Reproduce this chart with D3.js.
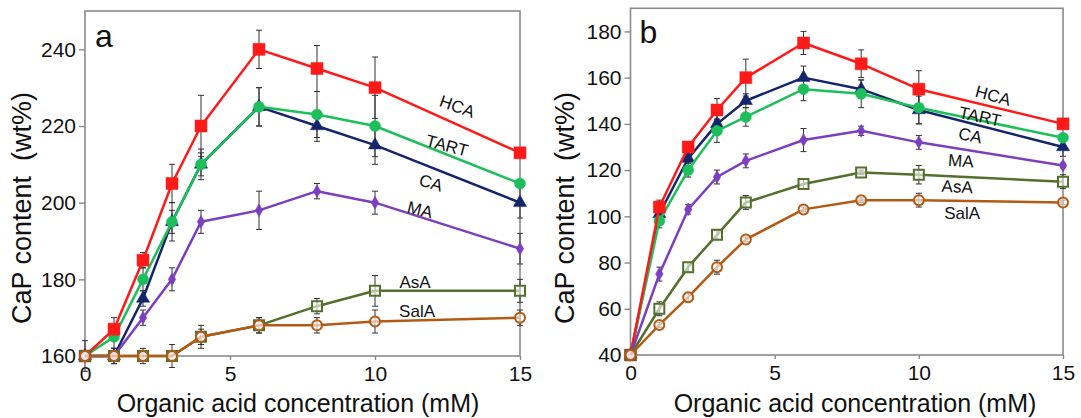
<!DOCTYPE html>
<html>
<head>
<meta charset="utf-8">
<script src="https://cdn.jsdelivr.net/npm/d3@7"></script>
<style>
	html, body { margin: 0; padding: 0; background: #fff; }
	svg { display: block; font-family: "Liberation Sans", Arial, sans-serif; }
</style>
</head>
<body>
<svg id="chart" width="1081" height="418"></svg>
<script>
// concentrations (mM)
const conc = [0, 1, 2, 3, 4, 6, 8, 10, 15];
const xTicks = [0, 5, 10, 15];

// panel a values (wt%) and error bars
const hcaA = [160, 167, 185, 205, 220, 240, 235, 230, 213];
const tartA = [160, 165, 180, 195, 210, 225, 223, 220, 205];
const caA = [160, 160, 175, 195, 210, 225, 220, 215, 200];
const maA = [160, 160, 170, 180, 195, 198, 203, 200, 188];
const asaA = [160, 160, 160, 160, 165, 168, 173, 177, 177];
const salaA = [160, 160, 160, 160, 165, 168, 168, 169, 170];
const hcaAErr = [4, 3, 2, 5, 8, 5, 6, 8, 1];
const tartAErr = [0, 3, 3, 3, 4, 5, 6, 8, 1];
const caAErr = [0, 2, 2, 5, 3, 5, 4, 5, 4];
const maAErr = [0, 2, 2, 3, 3, 5, 2, 3, 4];
const asaAErr = [0, 0, 2, 3, 3, 2, 2, 4, 3];
const salaAErr = [0, 0, 1, 1, 2, 2, 2, 3, 2];
const yTicksA = [160, 180, 200, 220, 240];

// panel b values (wt%) and error bars
const hcaB = [40, 104, 130, 146, 160, 175, 166, 155, 140];
const tartB = [40, 98, 120, 137, 143, 155, 153, 147, 134];
const caB = [40, 101, 125, 140, 150, 160, 155, 146, 130];
const maB = [40, 75, 103, 117, 124, 133, 137, 132, 122];
const asaB = [40, 60, 78, 92, 106, 114, 119, 118, 115];
const salaB = [40, 53, 65, 78, 90, 103, 107, 107, 106];
const hcaBErr = [0, 3, 2, 5, 8, 5, 6, 8, 1];
const tartBErr = [0, 3, 3, 5, 4, 5, 6, 7, 1];
const caBErr = [0, 2, 2, 2, 3, 5, 4, 6, 4];
const maBErr = [0, 3, 2, 3, 3, 5, 2, 3, 1];
const asaBErr = [0, 3, 2, 2, 3, 2, 1, 4, 3];
const salaBErr = [0, 1, 2, 3, 1, 1, 1, 3, 1];
const yTicksB = [40, 60, 80, 100, 120, 140, 160, 180];

const names = ["HCA", "TART", "CA", "MA", "AsA", "SalA"];

const styles = {
	HCA: {color: "#ff1a1a", shape: "square", fill: true, size: 12},
	TART: {color: "#1dbf5a", shape: "circle", fill: true, size: 11},
	CA: {color: "#14256b", shape: "triangle", fill: true, size: 11},
	MA: {color: "#7b3fc0", shape: "diamond", fill: true, size: 9},
	AsA: {color: "#54702c", shape: "square", fill: false, size: 10},
	SalA: {color: "#b35a14", shape: "circle", fill: false, size: 10}
};

const panels = [
	{
		letter: "a",
		box: {left: 85, right: 520, top: 11, bottom: 356},
		yDomain: [160, 250],
		yTicks: yTicksA,
		values: {HCA: hcaA, TART: tartA, CA: caA, MA: maA, AsA: asaA, SalA: salaA},
		errors: {HCA: hcaAErr, TART: tartAErr, CA: caAErr, MA: maAErr, AsA: asaAErr, SalA: salaAErr},
		// label anchors in data units, with rotation
		labels: {
			HCA: [12.83, 225, 20],
			TART: [12.48, 214.8, 15],
			CA: [11.93, 205.1, 17],
			MA: [11.55, 198.1, 14],
			AsA: [11.38, 179.3, 0],
			SalA: [11.45, 171.7, 0]
		},
		yLabelX: 31,
		xLabelX: 298
	},
	{
		letter: "b",
		box: {left: 630.5, right: 1063, top: 8.3, bottom: 355},
		yDomain: [40, 190],
		yTicks: yTicksB,
		values: {HCA: hcaB, TART: tartB, CA: caB, MA: maB, AsA: asaB, SalA: salaB},
		errors: {HCA: hcaBErr, TART: tartBErr, CA: caBErr, MA: maBErr, AsA: asaBErr, SalA: salaBErr},
		labels: {
			HCA: [12.57, 152.1, 15],
			TART: [12.12, 143, 12],
			CA: [11.78, 134.8, 12],
			MA: [11.46, 123.9, 4],
			AsA: [11.33, 112.7, 3],
			SalA: [11.5, 101.4, 0]
		},
		yLabelX: 574,
		xLabelX: 855
	}
];

const drawOrder = ["CA", "TART", "HCA", "MA", "AsA", "SalA"];

const svg = d3.select("#chart");
const frameColor = "#8a8a8a";

const symbolFor = (shape, size) => {
	const area = size * size;

	if (shape === "square") {
		return d3.symbol(d3.symbolSquare, area)();
	}

	if (shape === "triangle") {
		return d3.symbol(d3.symbolTriangle, area * 0.62)();
	}

	if (shape === "diamond") {
		return d3.symbol(d3.symbolDiamond, area * 0.6)();
	}

	return d3.symbol(d3.symbolCircle, area * 0.785)();
};

panels.forEach((p) => {
	const {box} = p;
	const x = d3.scaleLinear().domain([0, 15]).range([box.left, box.right]);
	const y = d3.scaleLinear().domain(p.yDomain).range([box.bottom, box.top]);

	const g = svg.append("g");

	// frame
	g.append("rect")
	.attr("x", box.left)
	.attr("y", box.top)
	.attr("width", box.right - box.left)
	.attr("height", box.bottom - box.top)
	.attr("fill", "none")
	.attr("stroke", frameColor)
	.attr("stroke-width", 1.6);

	// y axis
	const yAxis = g.append("g")
	.attr("transform", `translate(${box.left},0)`)
	.call(d3.axisLeft(y).tickValues(p.yTicks).tickSize(6).tickPadding(3));

	yAxis.select(".domain").remove();
	yAxis.selectAll(".tick line").attr("stroke", frameColor).attr("stroke-width", 1.4);
	yAxis.selectAll(".tick text")
	.attr("font-size", 21)
	.attr("font-family", "Liberation Sans, Arial, sans-serif")
	.attr("fill", "#111");

	// x axis
	const xAxis = g.append("g")
	.attr("transform", `translate(0,${box.bottom})`)
	.call(d3.axisBottom(x).tickValues(xTicks).tickSize(4).tickPadding(6));

	xAxis.select(".domain").remove();
	xAxis.selectAll(".tick line").attr("stroke", frameColor).attr("stroke-width", 1.4);
	xAxis.selectAll(".tick text")
	.attr("font-size", 21)
	.attr("font-family", "Liberation Sans, Arial, sans-serif")
	.attr("fill", "#111");

	// axis titles
	g.append("text")
	.attr("x", p.xLabelX)
	.attr("y", 412)
	.attr("text-anchor", "middle")
	.attr("font-size", 25)
	.attr("fill", "#111")
	.text("Organic acid concentration (mM)");

	g.append("text")
	.attr("transform", `translate(${p.yLabelX},208) rotate(-90)`)
	.attr("text-anchor", "middle")
	.attr("font-size", 27)
	.attr("fill", "#111")
	.attr("xml:space", "preserve")
	.style("white-space", "pre")
	.text("CaP content  (wt%)");

	// panel letter
	g.append("text")
	.attr("x", box.left + (p.letter === "a" ? 10 : 9))
	.attr("y", p.letter === "a" ? 47 : 43)
	.attr("font-size", 32)
	.attr("fill", "#111")
	.text(p.letter);

	const line = d3.line()
	.x((d) => x(d[0]))
	.y((d) => y(d[1]));

	// error bars first, under the lines
	drawOrder.forEach((name) => {
		const vals = p.values[name];
		const errs = p.errors[name];
		const eg = g.append("g").attr("stroke", "#333").attr("stroke-width", 1);

		conc.forEach((c, i) => {
			const e = errs[i];

			if (!e) {
				return;
			}

			const cx = x(c);
			const y1 = y(vals[i] - e);
			const y2 = y(vals[i] + e);

			eg.append("line").attr("x1", cx).attr("x2", cx).attr("y1", y1).attr("y2", y2);
			eg.append("line").attr("x1", cx - 3).attr("x2", cx + 3).attr("y1", y1).attr("y2", y1);
			eg.append("line").attr("x1", cx - 3).attr("x2", cx + 3).attr("y1", y2).attr("y2", y2);
		});
	});

	drawOrder.forEach((name) => {
		const st = styles[name];
		const pts = conc.map((c, i) => [c, p.values[name][i]]);

		g.append("path")
		.attr("d", line(pts))
		.attr("fill", "none")
		.attr("stroke", st.color)
		.attr("stroke-width", 2.5)
		.attr("stroke-linejoin", "round");

		g.selectAll(null)
		.data(pts)
		.enter()
		.append("path")
		.attr("transform", (d) => `translate(${x(d[0])},${y(d[1])})`)
		.attr("d", symbolFor(st.shape, st.size))
		.attr("fill", st.fill ? st.color : "#fff")
		.attr("fill-opacity", st.fill ? 1 : 0.6)
		.attr("stroke", st.color)
		.attr("stroke-width", st.fill ? 0.5 : 2);
	});

	// series labels
	names.forEach((name) => {
		const [lx, ly, rot] = p.labels[name];

		g.append("text")
		.attr("transform", `translate(${x(lx)},${y(ly)}) rotate(${rot})`)
		.attr("text-anchor", "middle")
		.attr("dominant-baseline", "central")
		.attr("font-size", 17)
		.attr("fill", "#111")
		.text(name);
	});
});
</script>
</body>
</html>
